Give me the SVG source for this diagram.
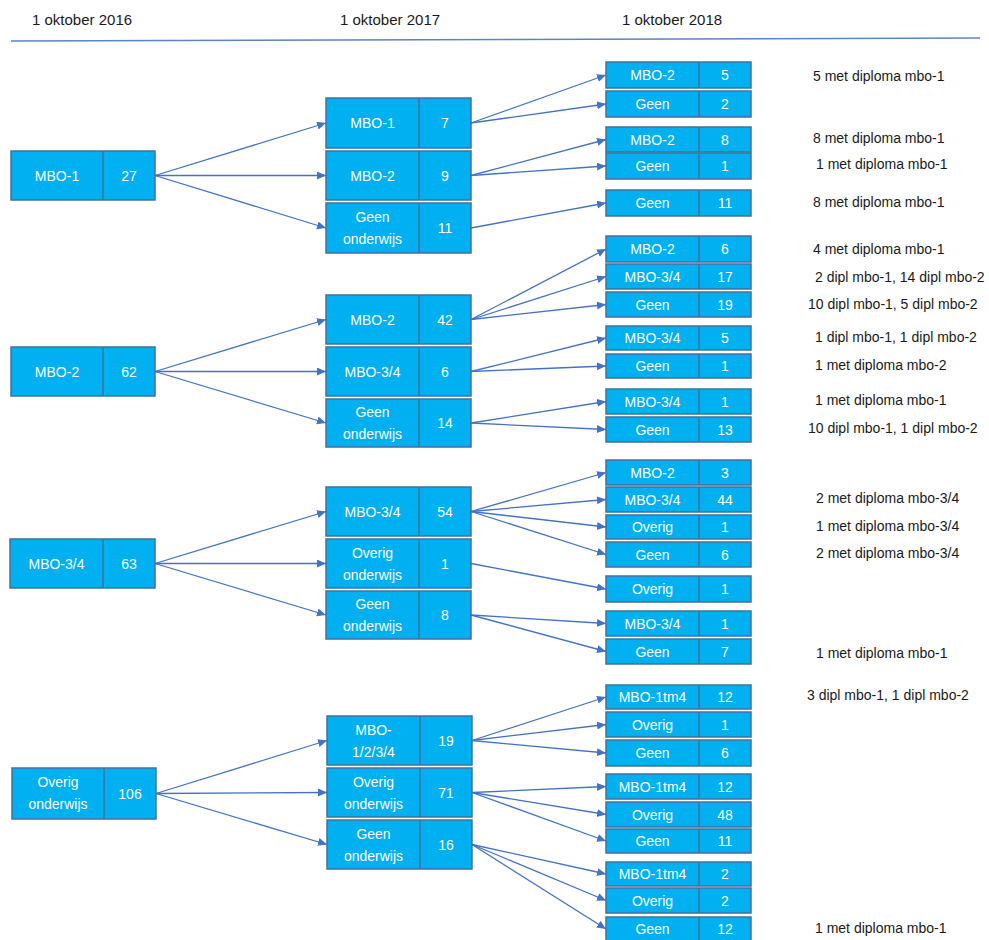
<svg xmlns="http://www.w3.org/2000/svg" width="989" height="940" viewBox="0 0 989 940">
<style>
.box{fill:#00B0F0;stroke:#41719C;stroke-width:1.5}
.dv{stroke:#41719C;stroke-width:1.5}
.t{font-family:"Liberation Sans",Arial,sans-serif;font-size:14px;fill:#FFFFFF;text-anchor:middle;dominant-baseline:central}
.h{font-family:"Liberation Sans",Arial,sans-serif;font-size:15px;fill:#1a1a1a}
.a{font-family:"Liberation Sans",Arial,sans-serif;font-size:14px;fill:#1a1a1a;dominant-baseline:central}
.c line{stroke:#4472C4;stroke-width:1.3;marker-end:url(#arr)}
</style>
<defs>
<marker id="arr" markerUnits="userSpaceOnUse" markerWidth="10" markerHeight="10" refX="9" refY="4" orient="auto">
<path d="M0,0 L9,4 L0,8 Z" fill="#4472C4"/>
</marker>
</defs>
<rect width="989" height="940" fill="#FFFFFF"/>
<g id="header">
<text class="h" x="32" y="25">1 oktober 2016</text>
<text class="h" x="340" y="25">1 oktober 2017</text>
<text class="h" x="622" y="25">1 oktober 2018</text>
<line x1="11" y1="41" x2="980" y2="38" stroke="#5B83C7" stroke-width="1.5"/>
</g>

<g id="connectors" class="c">
<!-- group 1 -->
<line x1="155" y1="175.5" x2="326" y2="123"/>
<line x1="155" y1="175.5" x2="326" y2="175.5"/>
<line x1="155" y1="175.5" x2="326" y2="228"/>
<line x1="471" y1="123" x2="606" y2="75"/>
<line x1="471" y1="123" x2="606" y2="104"/>
<line x1="471" y1="175.5" x2="606" y2="139.5"/>
<line x1="471" y1="175.5" x2="606" y2="166"/>
<line x1="471" y1="228" x2="606" y2="203"/>
<!-- group 2 -->
<line x1="155" y1="371.5" x2="326" y2="319.5"/>
<line x1="155" y1="371.5" x2="326" y2="371.5"/>
<line x1="155" y1="371.5" x2="326" y2="423"/>
<line x1="471" y1="319.5" x2="606" y2="249"/>
<line x1="471" y1="319.5" x2="606" y2="276.5"/>
<line x1="471" y1="319.5" x2="606" y2="304.5"/>
<line x1="471" y1="371.5" x2="606" y2="338"/>
<line x1="471" y1="371.5" x2="606" y2="366"/>
<line x1="471" y1="423" x2="606" y2="401.5"/>
<line x1="471" y1="423" x2="606" y2="429.5"/>
<!-- group 3 -->
<line x1="155" y1="563.5" x2="326" y2="511.5"/>
<line x1="155" y1="563.5" x2="326" y2="563.5"/>
<line x1="155" y1="563.5" x2="326" y2="615"/>
<line x1="471" y1="511.5" x2="606" y2="472.5"/>
<line x1="471" y1="511.5" x2="606" y2="499.5"/>
<line x1="471" y1="511.5" x2="606" y2="527"/>
<line x1="471" y1="511.5" x2="606" y2="554.5"/>
<line x1="471" y1="563.5" x2="606" y2="589"/>
<line x1="471" y1="615" x2="606" y2="623.5"/>
<line x1="471" y1="615" x2="606" y2="651.5"/>
<!-- group 4 -->
<line x1="156" y1="793.5" x2="327" y2="740.5"/>
<line x1="156" y1="793.5" x2="327" y2="792.5"/>
<line x1="156" y1="793.5" x2="327" y2="844.5"/>
<line x1="472" y1="740.5" x2="606" y2="697"/>
<line x1="472" y1="740.5" x2="606" y2="724.5"/>
<line x1="472" y1="740.5" x2="606" y2="753"/>
<line x1="472" y1="792.5" x2="606" y2="786.5"/>
<line x1="472" y1="792.5" x2="606" y2="814.5"/>
<line x1="472" y1="792.5" x2="606" y2="841"/>
<line x1="472" y1="844.5" x2="606" y2="874"/>
<line x1="472" y1="844.5" x2="606" y2="900.5"/>
<line x1="472" y1="844.5" x2="606" y2="929"/>
</g>

<!-- ===== Group 1 ===== -->
<g id="g1-2016-mbo1"><rect class="box" x="11" y="151" width="144" height="49"/><line class="dv" x1="103" y1="151" x2="103" y2="200"/><text class="t" x="57" y="175.5">MBO-1</text><text class="t" x="129" y="175.5">27</text></g>
<g id="g1-2017-mbo1"><rect class="box" x="326" y="98" width="145" height="50"/><line class="dv" x1="419" y1="98" x2="419" y2="148"/><text class="t" x="372.5" y="123">MBO-1</text><text class="t" x="445" y="123">7</text></g>
<g id="g1-2017-mbo2"><rect class="box" x="326" y="151" width="145" height="49"/><line class="dv" x1="419" y1="151" x2="419" y2="200"/><text class="t" x="372.5" y="175.5">MBO-2</text><text class="t" x="445" y="175.5">9</text></g>
<g id="g1-2017-geen"><rect class="box" x="326" y="203" width="145" height="50"/><line class="dv" x1="419" y1="203" x2="419" y2="253"/><text class="t" x="372.5" y="217">Geen</text><text class="t" x="372.5" y="239">onderwijs</text><text class="t" x="445" y="228">11</text></g>
<g id="g1-2018-a"><rect class="box" x="606" y="62" width="145" height="26"/><line class="dv" x1="699" y1="62" x2="699" y2="88"/><text class="t" x="652.5" y="75">MBO-2</text><text class="t" x="725" y="75">5</text></g>
<g id="g1-2018-b"><rect class="box" x="606" y="91" width="145" height="26"/><line class="dv" x1="699" y1="91" x2="699" y2="117"/><text class="t" x="652.5" y="104">Geen</text><text class="t" x="725" y="104">2</text></g>
<g id="g1-2018-c"><rect class="box" x="606" y="127" width="145" height="25"/><line class="dv" x1="699" y1="127" x2="699" y2="152"/><text class="t" x="652.5" y="139.5">MBO-2</text><text class="t" x="725" y="139.5">8</text></g>
<g id="g1-2018-d"><rect class="box" x="606" y="153" width="145" height="26"/><line class="dv" x1="699" y1="153" x2="699" y2="179"/><text class="t" x="652.5" y="166">Geen</text><text class="t" x="725" y="166">1</text></g>
<g id="g1-2018-e"><rect class="box" x="606" y="190" width="145" height="26"/><line class="dv" x1="699" y1="190" x2="699" y2="216"/><text class="t" x="652.5" y="203">Geen</text><text class="t" x="725" y="203">11</text></g>

<!-- ===== Group 2 ===== -->
<g id="g2-2016-mbo2"><rect class="box" x="11" y="347" width="144" height="49"/><line class="dv" x1="103" y1="347" x2="103" y2="396"/><text class="t" x="57" y="371.5">MBO-2</text><text class="t" x="129" y="371.5">62</text></g>
<g id="g2-2017-mbo2"><rect class="box" x="326" y="295" width="145" height="49"/><line class="dv" x1="419" y1="295" x2="419" y2="344"/><text class="t" x="372.5" y="319.5">MBO-2</text><text class="t" x="445" y="319.5">42</text></g>
<g id="g2-2017-mbo34"><rect class="box" x="326" y="347" width="145" height="49"/><line class="dv" x1="419" y1="347" x2="419" y2="396"/><text class="t" x="372.5" y="371.5">MBO-3/4</text><text class="t" x="445" y="371.5">6</text></g>
<g id="g2-2017-geen"><rect class="box" x="326" y="399" width="145" height="48"/><line class="dv" x1="419" y1="399" x2="419" y2="447"/><text class="t" x="372.5" y="412">Geen</text><text class="t" x="372.5" y="434">onderwijs</text><text class="t" x="445" y="423">14</text></g>
<g id="g2-2018-a"><rect class="box" x="606" y="236" width="145" height="26"/><line class="dv" x1="699" y1="236" x2="699" y2="262"/><text class="t" x="652.5" y="249">MBO-2</text><text class="t" x="725" y="249">6</text></g>
<g id="g2-2018-b"><rect class="box" x="606" y="264" width="145" height="25"/><line class="dv" x1="699" y1="264" x2="699" y2="289"/><text class="t" x="652.5" y="276.5">MBO-3/4</text><text class="t" x="725" y="276.5">17</text></g>
<g id="g2-2018-c"><rect class="box" x="606" y="292" width="145" height="25"/><line class="dv" x1="699" y1="292" x2="699" y2="317"/><text class="t" x="652.5" y="304.5">Geen</text><text class="t" x="725" y="304.5">19</text></g>
<g id="g2-2018-d"><rect class="box" x="606" y="326" width="145" height="24"/><line class="dv" x1="699" y1="326" x2="699" y2="350"/><text class="t" x="652.5" y="338">MBO-3/4</text><text class="t" x="725" y="338">5</text></g>
<g id="g2-2018-e"><rect class="box" x="606" y="354" width="145" height="24"/><line class="dv" x1="699" y1="354" x2="699" y2="378"/><text class="t" x="652.5" y="366">Geen</text><text class="t" x="725" y="366">1</text></g>
<g id="g2-2018-f"><rect class="box" x="606" y="389" width="145" height="25"/><line class="dv" x1="699" y1="389" x2="699" y2="414"/><text class="t" x="652.5" y="401.5">MBO-3/4</text><text class="t" x="725" y="401.5">1</text></g>
<g id="g2-2018-g"><rect class="box" x="606" y="417" width="145" height="25"/><line class="dv" x1="699" y1="417" x2="699" y2="442"/><text class="t" x="652.5" y="429.5">Geen</text><text class="t" x="725" y="429.5">13</text></g>

<!-- ===== Group 3 ===== -->
<g id="g3-2016-mbo34"><rect class="box" x="10" y="539" width="145" height="49"/><line class="dv" x1="103" y1="539" x2="103" y2="588"/><text class="t" x="56.5" y="563.5">MBO-3/4</text><text class="t" x="129" y="563.5">63</text></g>
<g id="g3-2017-mbo34"><rect class="box" x="326" y="487" width="145" height="49"/><line class="dv" x1="419" y1="487" x2="419" y2="536"/><text class="t" x="372.5" y="511.5">MBO-3/4</text><text class="t" x="445" y="511.5">54</text></g>
<g id="g3-2017-overig"><rect class="box" x="326" y="539" width="145" height="49"/><line class="dv" x1="419" y1="539" x2="419" y2="588"/><text class="t" x="372.5" y="552.5">Overig</text><text class="t" x="372.5" y="574.5">onderwijs</text><text class="t" x="445" y="563.5">1</text></g>
<g id="g3-2017-geen"><rect class="box" x="326" y="591" width="145" height="48"/><line class="dv" x1="419" y1="591" x2="419" y2="639"/><text class="t" x="372.5" y="604">Geen</text><text class="t" x="372.5" y="626">onderwijs</text><text class="t" x="445" y="615">8</text></g>
<g id="g3-2018-a"><rect class="box" x="606" y="460" width="145" height="25"/><line class="dv" x1="699" y1="460" x2="699" y2="485"/><text class="t" x="652.5" y="472.5">MBO-2</text><text class="t" x="725" y="472.5">3</text></g>
<g id="g3-2018-b"><rect class="box" x="606" y="487" width="145" height="25"/><line class="dv" x1="699" y1="487" x2="699" y2="512"/><text class="t" x="652.5" y="499.5">MBO-3/4</text><text class="t" x="725" y="499.5">44</text></g>
<g id="g3-2018-c"><rect class="box" x="606" y="515" width="145" height="24"/><line class="dv" x1="699" y1="515" x2="699" y2="539"/><text class="t" x="652.5" y="527">Overig</text><text class="t" x="725" y="527">1</text></g>
<g id="g3-2018-d"><rect class="box" x="606" y="542" width="145" height="25"/><line class="dv" x1="699" y1="542" x2="699" y2="567"/><text class="t" x="652.5" y="554.5">Geen</text><text class="t" x="725" y="554.5">6</text></g>
<g id="g3-2018-e"><rect class="box" x="606" y="576" width="145" height="26"/><line class="dv" x1="699" y1="576" x2="699" y2="602"/><text class="t" x="652.5" y="589">Overig</text><text class="t" x="725" y="589">1</text></g>
<g id="g3-2018-f"><rect class="box" x="606" y="611" width="145" height="25"/><line class="dv" x1="699" y1="611" x2="699" y2="636"/><text class="t" x="652.5" y="623.5">MBO-3/4</text><text class="t" x="725" y="623.5">1</text></g>
<g id="g3-2018-g"><rect class="box" x="606" y="639" width="145" height="25"/><line class="dv" x1="699" y1="639" x2="699" y2="664"/><text class="t" x="652.5" y="651.5">Geen</text><text class="t" x="725" y="651.5">7</text></g>

<!-- ===== Group 4 ===== -->
<g id="g4-2016-overig"><rect class="box" x="12" y="768" width="144" height="51"/><line class="dv" x1="104" y1="768" x2="104" y2="819"/><text class="t" x="58" y="782">Overig</text><text class="t" x="58" y="804">onderwijs</text><text class="t" x="130" y="793.5">106</text></g>
<g id="g4-2017-mbo"><rect class="box" x="327" y="716" width="145" height="49"/><line class="dv" x1="420" y1="716" x2="420" y2="765"/><text class="t" x="373.5" y="729.5">MBO-</text><text class="t" x="373.5" y="751.5">1/2/3/4</text><text class="t" x="446" y="740.5">19</text></g>
<g id="g4-2017-overig"><rect class="box" x="327" y="768" width="145" height="49"/><line class="dv" x1="420" y1="768" x2="420" y2="817"/><text class="t" x="373.5" y="781.5">Overig</text><text class="t" x="373.5" y="803.5">onderwijs</text><text class="t" x="446" y="792.5">71</text></g>
<g id="g4-2017-geen"><rect class="box" x="327" y="820" width="145" height="49"/><line class="dv" x1="420" y1="820" x2="420" y2="869"/><text class="t" x="373.5" y="833.5">Geen</text><text class="t" x="373.5" y="855.5">onderwijs</text><text class="t" x="446" y="844.5">16</text></g>
<g id="g4-2018-a"><rect class="box" x="606" y="685" width="145" height="24"/><line class="dv" x1="699" y1="685" x2="699" y2="709"/><text class="t" x="652.5" y="697">MBO-1tm4</text><text class="t" x="725" y="697">12</text></g>
<g id="g4-2018-b"><rect class="box" x="606" y="712" width="145" height="25"/><line class="dv" x1="699" y1="712" x2="699" y2="737"/><text class="t" x="652.5" y="724.5">Overig</text><text class="t" x="725" y="724.5">1</text></g>
<g id="g4-2018-c"><rect class="box" x="606" y="740" width="145" height="26"/><line class="dv" x1="699" y1="740" x2="699" y2="766"/><text class="t" x="652.5" y="753">Geen</text><text class="t" x="725" y="753">6</text></g>
<g id="g4-2018-d"><rect class="box" x="606" y="774" width="145" height="25"/><line class="dv" x1="699" y1="774" x2="699" y2="799"/><text class="t" x="652.5" y="786.5">MBO-1tm4</text><text class="t" x="725" y="786.5">12</text></g>
<g id="g4-2018-e"><rect class="box" x="606" y="802" width="145" height="25"/><line class="dv" x1="699" y1="802" x2="699" y2="827"/><text class="t" x="652.5" y="814.5">Overig</text><text class="t" x="725" y="814.5">48</text></g>
<g id="g4-2018-f"><rect class="box" x="606" y="829" width="145" height="24"/><line class="dv" x1="699" y1="829" x2="699" y2="853"/><text class="t" x="652.5" y="841">Geen</text><text class="t" x="725" y="841">11</text></g>
<g id="g4-2018-g"><rect class="box" x="606" y="862" width="145" height="24"/><line class="dv" x1="699" y1="862" x2="699" y2="886"/><text class="t" x="652.5" y="874">MBO-1tm4</text><text class="t" x="725" y="874">2</text></g>
<g id="g4-2018-h"><rect class="box" x="606" y="888" width="145" height="25"/><line class="dv" x1="699" y1="888" x2="699" y2="913"/><text class="t" x="652.5" y="900.5">Overig</text><text class="t" x="725" y="900.5">2</text></g>
<g id="g4-2018-i"><rect class="box" x="606" y="917" width="145" height="24"/><line class="dv" x1="699" y1="917" x2="699" y2="941"/><text class="t" x="652.5" y="929">Geen</text><text class="t" x="725" y="929">12</text></g>

<!-- ===== Annotations ===== -->
<g id="annotations">
<text class="a" x="813" y="76">5 met diploma mbo-1</text>
<text class="a" x="813" y="138">8 met diploma mbo-1</text>
<text class="a" x="816" y="164">1 met diploma mbo-1</text>
<text class="a" x="813" y="202">8 met diploma mbo-1</text>
<text class="a" x="813" y="249">4 met diploma mbo-1</text>
<text class="a" x="815" y="277">2 dipl mbo-1, 14 dipl mbo-2</text>
<text class="a" x="808" y="304">10 dipl mbo-1, 5 dipl mbo-2</text>
<text class="a" x="815" y="337">1 dipl mbo-1, 1 dipl mbo-2</text>
<text class="a" x="815" y="365">1 met diploma mbo-2</text>
<text class="a" x="815" y="400">1 met diploma mbo-1</text>
<text class="a" x="808" y="428">10 dipl mbo-1, 1 dipl mbo-2</text>
<text class="a" x="816" y="498">2 met diploma mbo-3/4</text>
<text class="a" x="816" y="526">1 met diploma mbo-3/4</text>
<text class="a" x="816" y="553">2 met diploma mbo-3/4</text>
<text class="a" x="816" y="653">1 met diploma mbo-1</text>
<text class="a" x="807" y="695">3 dipl mbo-1, 1 dipl mbo-2</text>
<text class="a" x="815" y="928">1 met diploma mbo-1</text>
</g>
</svg>
